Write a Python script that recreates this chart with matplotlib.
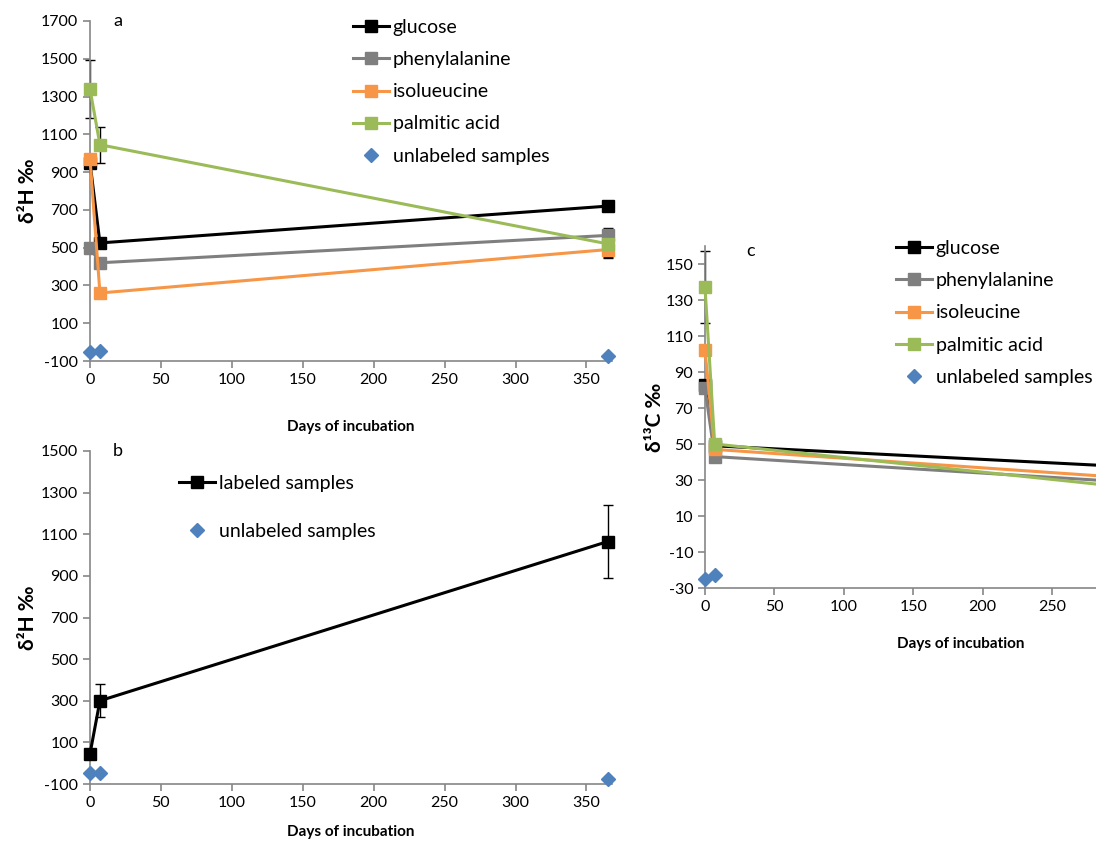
import matplotlib.pyplot as plt

plt.rcParams['font.family'] = ['Lato', 'DejaVu Sans']
plt.rcParams['axes.unicode_minus'] = False

# days of incubation
days = [0, 7, 365]

# panel a: delta 2H of compounds
glucose_h = [950, 525, 720]
phenyl_h = [500, 420, 565]
isoleu_h = [970, 260, 490]
palmitic_h = [1340, 1045, 520]
unlab_a = [-50, -45, -75]
palmitic_h_err = [155, 95, 70]
phenyl_h_err = [0, 0, 40]
isoleu_h_err = [0, 0, 45]

# panel b: bulk delta 2H
labeled_b = [45, 300, 1065]
labeled_b_err = [0, 80, 177]
unlab_b = [-48, -48, -76]

# panel c: delta 13C of compounds
glucose_c = [83, 49, 35]
phenyl_c = [81, 43, 26]
isoleu_c = [102, 47, 28]
palmitic_c = [137, 50, 21]
unlab_c = [-25, -23, -24]
palmitic_c_err = [20, 0, 0]

black = '#000000'
gray = '#7f7f7f'
orange = '#f79646'
green = '#9bbb59'
blue = '#4f81bd'
axis_col = '#868686'

fig = plt.figure(figsize=(10.96, 8.43), dpi=100)


def style(ax, ylim, yticks, xmax_tick=350, pad=14):
    ax.set_xlim(0, 368)
    ax.set_ylim(*ylim)
    ax.set_xticks(range(0, xmax_tick + 1, 50))
    ax.set_yticks(yticks)
    for s in ['top', 'right']:
        ax.spines[s].set_visible(False)
    for s in ['left', 'bottom']:
        ax.spines[s].set_color(axis_col)
        ax.spines[s].set_linewidth(1.2)
    ax.tick_params(colors=axis_col, labelcolor='black', labelsize=11.5,
                   length=5, width=1.2)
    ax.set_xlabel('Days of incubation', fontsize=11, fontweight='bold',
                  labelpad=pad)


def line(ax, y, color, label):
    ax.plot(days, y, color=color, lw=2.2, marker='s', markersize=8,
            label=label, clip_on=False, zorder=3)


def unlab(ax, y):
    ax.plot(days, y, linestyle='none', marker='D', markersize=7.5,
            color=blue, label='unlabeled samples', clip_on=False, zorder=3)


def ebar(ax, y, err):
    ax.errorbar(days, y, yerr=err, fmt='none', ecolor='black', elinewidth=1,
                capsize=3.5, capthick=1, clip_on=False, zorder=2)


def leg(ax, x, y, spacing):
    ax.legend(loc='upper left', bbox_to_anchor=(x / 1096, 1 - y / 843),
              bbox_transform=fig.transFigure, frameon=False, fontsize=14,
              handlelength=1.85, handletextpad=0.2, labelspacing=spacing,
              borderpad=0, borderaxespad=0)


# ---- panel a
ax_a = fig.add_axes([90 / 1096, 1 - 361 / 843, 522 / 1096, 340 / 843])
style(ax_a, (-100, 1700), range(-100, 1701, 200), pad=24)
ebar(ax_a, palmitic_h, palmitic_h_err)
ebar(ax_a, phenyl_h, phenyl_h_err)
ebar(ax_a, isoleu_h, isoleu_h_err)
line(ax_a, glucose_h, black, 'glucose')
line(ax_a, phenyl_h, gray, 'phenylalanine')
line(ax_a, isoleu_h, orange, 'isolueucine')
line(ax_a, palmitic_h, green, 'palmitic acid')
unlab(ax_a, unlab_a)
ax_a.set_ylabel('δ²H ‰', fontsize=15, fontweight='bold', labelpad=2)
ax_a.text(0.054, 1.0, 'a', transform=ax_a.transAxes, fontsize=13,
          va='center', ha='center')
leg(ax_a, 353, 19, 0.78)

# ---- panel b
ax_b = fig.add_axes([90 / 1096, 1 - 784 / 843, 522 / 1096, 333 / 843])
style(ax_b, (-100, 1500), range(-100, 1501, 200), pad=11)
ebar(ax_b, labeled_b, labeled_b_err)
line(ax_b, labeled_b, black, 'labeled samples')
unlab(ax_b, unlab_b)
ax_b.set_ylabel('δ²H ‰', fontsize=15, fontweight='bold', labelpad=2)
ax_b.text(0.054, 1.0, 'b', transform=ax_b.transAxes, fontsize=13,
          va='center', ha='center')
leg(ax_b, 179, 475, 1.6)

# ---- panel c (runs past the right edge of the figure)
ax_c = fig.add_axes([705 / 1096, 1 - 588 / 843, 511 / 1096, 342 / 843])
style(ax_c, (-30, 160), range(-30, 151, 20), xmax_tick=250, pad=16.5)
ebar(ax_c, palmitic_c, palmitic_c_err)
line(ax_c, glucose_c, black, 'glucose')
line(ax_c, phenyl_c, gray, 'phenylalanine')
line(ax_c, isoleu_c, orange, 'isoleucine')
line(ax_c, palmitic_c, green, 'palmitic acid')
unlab(ax_c, unlab_c)
ax_c.set_ylabel('δ¹³C ‰', fontsize=15, fontweight='bold', labelpad=0)
ax_c.text(751 / 1096, 1 - 251 / 843, 'c', transform=fig.transFigure,
          fontsize=13, va='center', ha='center')
leg(ax_c, 896, 240, 0.78)

plt.savefig('out.png', dpi=100)
